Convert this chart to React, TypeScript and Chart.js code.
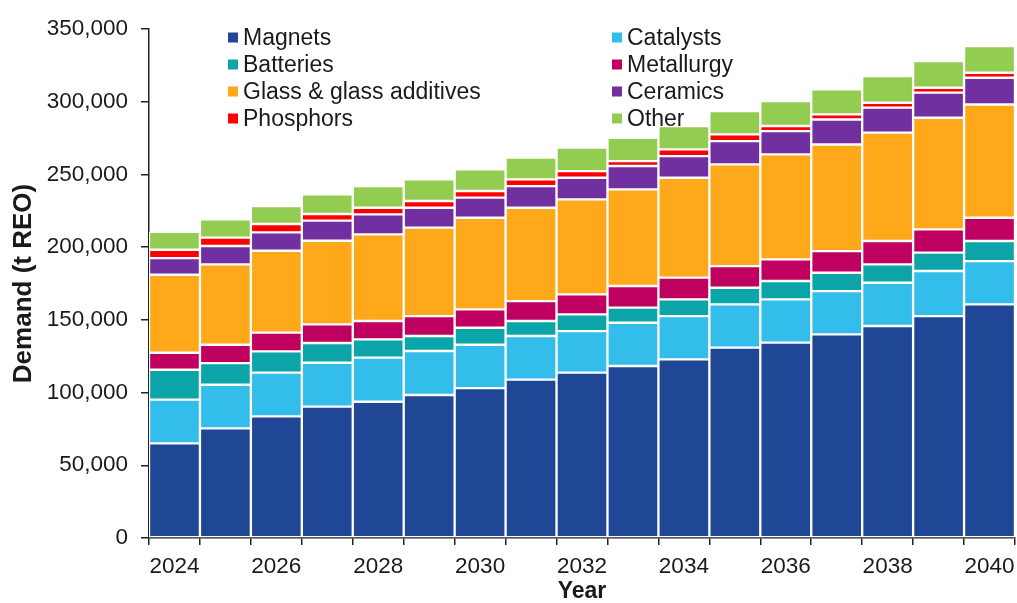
import React, { useEffect, useRef } from 'react';
import { Chart, registerables } from 'chart.js';

Chart.register(...registerables);

// ---- data ----
const years = ['2024', '2025', '2026', '2027', '2028', '2029', '2030', '2031', '2032', '2033', '2034', '2035', '2036', '2037', '2038', '2039', '2040'];
const magnets = [65100, 75400, 83600, 90300, 93700, 98300, 103100, 108900, 113700, 118300, 122800, 130900, 134300, 140000, 145800, 152600, 160600];
const catalysts = [30000, 30000, 30100, 30200, 30300, 30300, 29800, 30000, 28600, 29700, 29800, 29700, 29800, 29800, 29700, 31000, 29800];
const batteries = [20600, 14900, 14600, 13600, 12600, 10300, 11700, 10300, 11500, 10400, 11500, 11500, 12600, 12600, 12600, 12600, 13800];
const metallurgy = [11700, 12600, 12900, 12800, 12600, 13700, 12600, 13700, 13700, 14900, 14900, 14900, 14900, 14900, 16100, 16000, 16000];
const glass = [53600, 55200, 56300, 57500, 59600, 60800, 63000, 64200, 65300, 66400, 68700, 69900, 72200, 73300, 74500, 76800, 77900];
const ceramics = [11500, 12700, 12700, 13800, 13700, 13700, 13800, 14900, 14900, 16100, 14900, 16000, 16000, 17200, 17200, 17200, 18400];
const phosphors = [5700, 5700, 5700, 4600, 4600, 4600, 4600, 4600, 4600, 3400, 4600, 4600, 3500, 3500, 3400, 3400, 3400];
const other = [12400, 12600, 12400, 13500, 14900, 14900, 14900, 14900, 16100, 16000, 16100, 16100, 17100, 17200, 18300, 18300, 18400];

const seriesLabels = ['Magnets', 'Catalysts', 'Batteries', 'Metallurgy', 'Glass & glass additives', 'Ceramics', 'Phosphors', 'Other'];
const seriesColors = ['#1F4796', '#33BDEA', '#0BA5A9', '#C00060', '#FFA819', '#7030A0', '#FF0000', '#92CD51'];
const seriesValues = [magnets, catalysts, batteries, metallurgy, glass, ceramics, phosphors, other];

const yMax = 350000;
const yStep = 50000;

const FONT = '"Liberation Sans", Arial, Helvetica, sans-serif';
const TEXT = '#1a1a1a';

const legendPlugin = {
  id: 'twoColLegend',
  afterDraw(chart: any) {
    const ctx = chart.ctx;
    const colX = [228, 612];
    const rowY0 = 37.5;
    const rowGap = 27;
    const box = 10;
    ctx.save();
    ctx.font = `23px ${FONT}`;
    ctx.textBaseline = 'middle';
    ctx.textAlign = 'left';
    chart.data.datasets.forEach((ds: any, i: number) => {
      const x = colX[i % 2];
      const y = rowY0 + Math.floor(i / 2) * rowGap;
      ctx.fillStyle = ds.backgroundColor;
      ctx.fillRect(x, y - box / 2, box, box);
      ctx.fillStyle = TEXT;
      ctx.fillText(ds.label, x + 15, y + 1);
    });
    ctx.restore();
  },
};

export default function App() {
  const ref = useRef<HTMLCanvasElement>(null);

  useEffect(() => {
    if (!ref.current) return;
    const chart = new Chart(ref.current, {
      type: 'bar',
      data: {
        labels: years,
        datasets: seriesLabels.map((label, i) => ({
          label,
          data: seriesValues[i],
          backgroundColor: seriesColors[i],
          borderColor: '#ffffff',
          borderWidth: 1.5,
          borderSkipped: false,
          barPercentage: 1,
          categoryPercentage: 1,
        })),
      },
      options: {
        responsive: false,
        animation: false,
        devicePixelRatio: 1,
        layout: { padding: { top: 29, right: 2, left: 0, bottom: 0 } },
        plugins: { legend: { display: false }, tooltip: { enabled: false } },
        scales: {
          x: {
            stacked: true,
            offset: true,
            grid: { drawOnChartArea: false, drawTicks: true, tickLength: 7, color: '#222', offset: true, lineWidth: 1.5 },
            border: { color: '#222', width: 1.5 },
            ticks: {
              autoSkip: false,
              maxRotation: 0,
              minRotation: 0,
              padding: 8,
              color: TEXT,
              font: { family: FONT, size: 22.5 },
              callback: (_v: any, i: number) => (i % 2 === 0 ? years[i] : ''),
            },
            title: { display: true, text: 'Year', color: TEXT, font: { family: FONT, size: 23, weight: 'bold', lineHeight: 1 }, padding: { top: 0, bottom: 0 } },
            afterFit: (s: any) => { s.height = 65; s.paddingLeft = 0; s.paddingRight = 0; },
          },
          y: {
            stacked: true,
            min: 0,
            max: yMax,
            grid: { drawOnChartArea: false, drawTicks: true, tickLength: 8, color: '#222', lineWidth: 1.5 },
            border: { color: '#222', width: 1.5 },
            ticks: {
              stepSize: yStep,
              padding: 13,
              color: TEXT,
              font: { family: FONT, size: 22.5 },
              callback: (v: any) => Number(v).toLocaleString('en-US'),
            },
            title: { display: true, text: 'Demand (t REO)', color: TEXT, font: { family: FONT, size: 26, weight: 'bold' }, padding: { top: 8, bottom: 0 } },
            afterFit: (s: any) => { s.width = 149; },
          },
        },
      } as any,
      plugins: [legendPlugin],
    });
    return () => chart.destroy();
  }, []);

  return (
    <div style={{ position: 'fixed', left: 0, top: 0, width: 1017, height: 603, background: '#fff' }}>
      <canvas ref={ref} width={1017} height={603} style={{ display: 'block', width: 1017, height: 603 }} />
    </div>
  );
}
